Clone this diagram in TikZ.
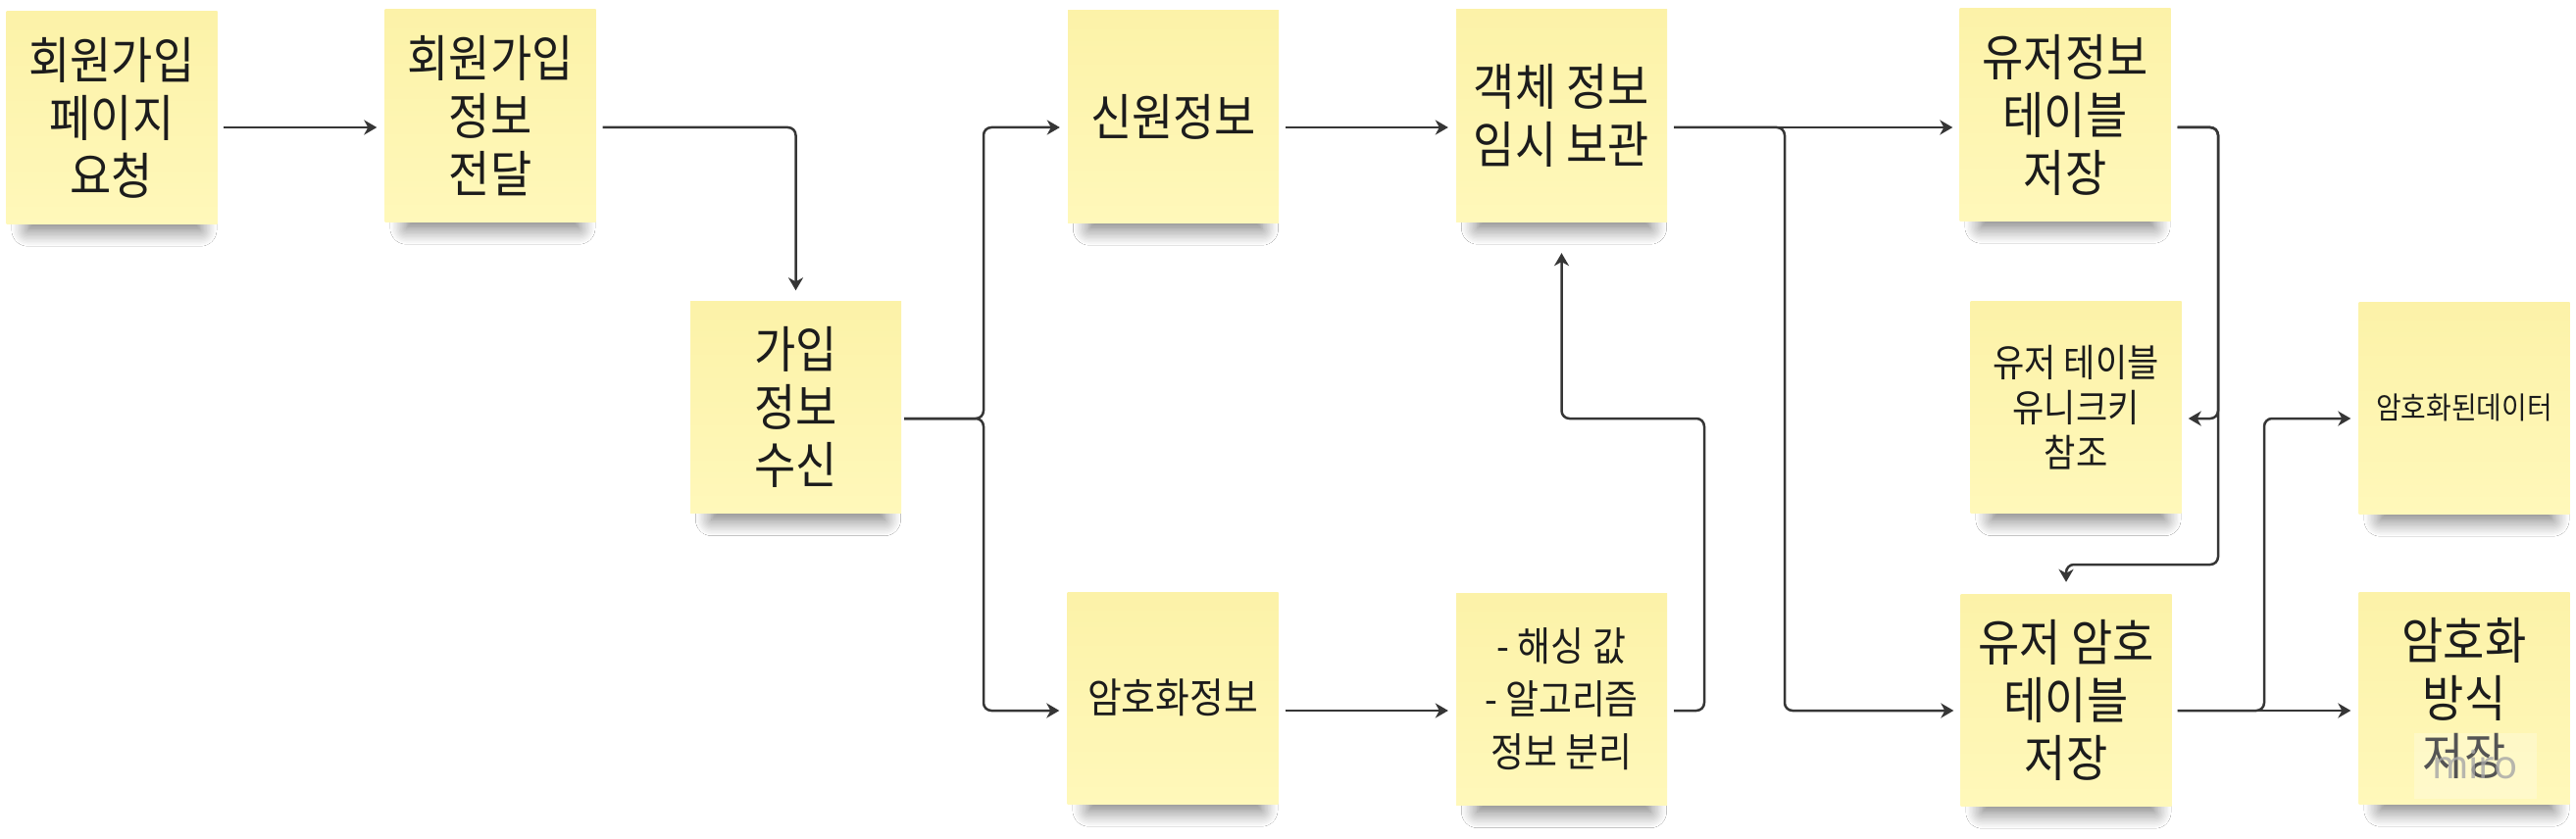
\documentclass[tikz,border=0pt]{standalone}
\usepackage{fontspec}
\setmainfont[FakeStretch=0.9]{Noto Sans CJK KR}
\newfontfamily\wmfont{Noto Sans}
\usetikzlibrary{arrows.meta,shadows.blur,calc}
\definecolor{notetop}{HTML}{FCF2A8}
\definecolor{notebot}{HTML}{FFF8BA}
\definecolor{linecol}{HTML}{363636}
\definecolor{textcol}{HTML}{1C1C1C}
\tikzset{
  note/.style={draw=none, top color=notetop, bottom color=notebot,
    minimum width=215pt, minimum height=216pt, inner sep=0pt, align=center, text=textcol,
    blur shadow={shadow xshift=3pt, shadow yshift=-32pt, shadow blur radius=20pt,
      shadow blur steps=12, shadow opacity=55, shadow scale=0.82}},
  big/.style={font=\fontsize{51}{59}\selectfont},
  conn/.style={draw=linecol, line width=2.5pt, rounded corners=8pt,
    -{Stealth[length=13pt,width=15pt,inset=4pt]}},
}
\begin{document}
\begin{tikzpicture}[x=1pt,y=-1pt]
\useasboundingbox (0,0) rectangle (2627,856);
\fill[white] (0,0) rectangle (2627,856);
% levels and bends
\coordinate (r1) at (0,130);
\coordinate (r2) at (0,427);
\coordinate (r3) at (0,725);
\coordinate (r4) at (0,576);
\coordinate (bA) at (1003,0);
\coordinate (bB) at (1820,0);
\coordinate (bC) at (2262,0);
\coordinate (bD) at (2309,0);
\coordinate (bE) at (1738,0);
% notes
\node[note,big] (n1) at (114,120) {회원가입\\페이지\\요청};
\node[note,big] (n2) at (500,118) {회원가입\\정보\\전달};
\node[note,big] (n3) at (811.5,415.5) {가입\\정보\\수신};
\node[note,big] (n4) at (1196.5,119) {신원정보};
\node[note,big] (n5) at (1592.5,118) {객체 정보\\임시 보관};
\node[note,font=\fontsize{42}{50}\selectfont] (n6) at (1196,712) {암호화정보};
\node[note,font=\fontsize{41}{54}\selectfont] (n7) at (1592.5,713.5) {- 해싱 값\\- 알고리즘\\정보 분리};
\node[note,big] (n8) at (2106,117) {유저정보\\테이블\\저장};
\node[note,font=\fontsize{39}{46}\selectfont] (n9) at (2117,415.5) {유저 테이블\\유니크키\\참조};
\node[note,font=\fontsize{31}{36}\selectfont] (n10) at (2513,416) {암호화된데이터};
\node[note,big] (n11) at (2107,714) {유저 암호\\테이블\\저장};
\node[note,big] (n12) at (2513,712) {암호화\\방식\\저장};
% watermark
\fill[white,opacity=0.25] (2462,748) rectangle (2587,815);
\node[text=black!35,opacity=0.8,font=\wmfont\fontsize{40}{40}\selectfont] (wm) at (2524,780) {miro};
% connectors
\draw[conn] ($(n1.east|-r1)+(6,0)$) -- ($(n2.west|-r1)+(-8,0)$);
\draw[conn] ($(n2.east|-r1)+(7,0)$) -| ($(n3.north)+(0,-11)$);
\draw[conn] ($(n3.east|-r2)+(3,0)$) -- (bA|-r2) |- ($(n4.west|-r1)+(-8,0)$);
\draw[conn] ($(n3.east|-r2)+(3,0)$) -- (bA|-r2) |- ($(n6.west|-r3)+(-8,0)$);
\draw[conn] ($(n4.east|-r1)+(7,0)$) -- ($(n5.west|-r1)+(-8,0)$);
\draw[conn] ($(n6.east|-r3)+(7,0)$) -- ($(n7.west|-r3)+(-8,0)$);
\draw[conn] ($(n7.east|-r3)+(7,0)$) -| (bE|-r2) -| ($(n5.south)+(0,32)$);
\draw[conn] ($(n5.east|-r1)+(7,0)$) -- ($(n8.west|-r1)+(-7,0)$);
\draw[conn] ($(n5.east|-r1)+(7,0)$) -| (bB|-r3) -- ($(n11.west|-r3)+(-7,0)$);
\draw[conn] ($(n8.east|-r1)+(7,0)$) -| (bC|-r2) -- ($(n9.east|-r2)+(7,0)$);
\draw[conn] ($(n8.east|-r1)+(7,0)$) -| (bC|-r4) -| ($(n11.north)+(0,-12)$);
\draw[conn] ($(n11.east|-r3)+(6,0)$) -- ($(n12.west|-r3)+(-8,0)$);
\draw[conn] ($(n11.east|-r3)+(6,0)$) -| (bD|-r2) -- ($(n10.west|-r2)+(-8,0)$);
\end{tikzpicture}
\end{document}
